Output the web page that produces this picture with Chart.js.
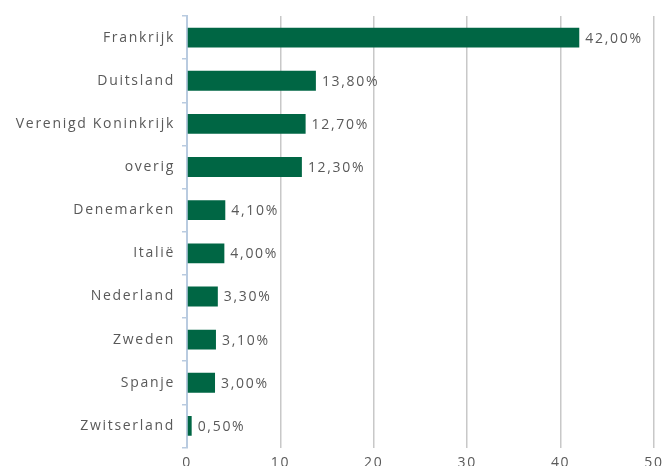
<!DOCTYPE html>
<html>
<head>
<meta charset="utf-8">
<script src="https://cdn.jsdelivr.net/npm/chart.js@4.4.1/dist/chart.umd.min.js"></script>
<style>
  html, body { margin: 0; padding: 0; background: #fff; overflow: hidden; }
  #wrap { position: relative; width: 669px; height: 480px; }
</style>
</head>
<body>
<div id="wrap"><canvas id="landenChart"></canvas></div>
<script>
(function () {
  'use strict';

  var LANDEN = ['Frankrijk', 'Duitsland', 'Verenigd Koninkrijk', 'overig', 'Denemarken',
                'Italië', 'Nederland', 'Zweden', 'Spanje', 'Zwitserland'];
  var AANDEEL = [42.0, 13.8, 12.7, 12.3, 4.1, 4.0, 3.3, 3.1, 3.0, 0.5];
  var X_TICKS = [0, 10, 20, 30, 40, 50];

  var TEXT = '#595959';
  var FONT = { family: "'Open Sans', sans-serif", size: 14 };
  var SPACING = '1.7px';

  function pct(v) { return v.toFixed(2).replace('.', ',') + '%'; }

  /* value labels right of each bar */
  var valueLabels = {
    id: 'valueLabels',
    afterDatasetsDraw: function (chart) {
      var ctx = chart.ctx;
      var meta = chart.getDatasetMeta(0);
      ctx.save();
      ctx.letterSpacing = SPACING;
      ctx.font = FONT.size + 'px ' + FONT.family;
      ctx.fillStyle = TEXT;
      ctx.textAlign = 'left';
      ctx.textBaseline = 'middle';
      meta.data.forEach(function (bar, i) {
        ctx.fillText(pct(AANDEEL[i]), bar.x + 6, bar.y + 1);
      });
      ctx.restore();
    }
  };

  // wider letter spacing for the axis texts too
  var spacing = {
    id: 'spacing',
    beforeDraw: function (chart) { chart.ctx.letterSpacing = SPACING; }
  };

  new Chart(document.getElementById('landenChart').getContext('2d'), {
    type: 'bar',
    data: {
      labels: LANDEN,
      datasets: [{
        data: AANDEEL,
        backgroundColor: '#006644',
        borderWidth: 0,
        categoryPercentage: 1,
        barPercentage: 0.46
      }]
    },
    plugins: [spacing, valueLabels],
    options: {
      indexAxis: 'y',
      responsive: true,
      maintainAspectRatio: false,
      animation: false,
      layout: { padding: { top: 16, right: 11, bottom: 0, left: 0 } },
      plugins: { legend: { display: false }, tooltip: { enabled: false } },
      scales: {
        x: {
          min: 0,
          max: 50,
          afterBuildTicks: function (s) { s.ticks = X_TICKS.map(function (v) { return { value: v }; }); },
          afterFit: function (s) { s.height = 32.5; },
          border: { display: false },
          grid: {
            color: function (c) { return c.index === 0 ? 'rgba(0,0,0,0)' : '#c8c8c8'; },
            lineWidth: 1.5,
            drawTicks: false
          },
          ticks: { color: TEXT, font: FONT, padding: 7 }
        },
        y: {
          afterFit: function (s) { s.width = 187; },
          border: { color: '#b9cbe0', width: 2 },
          grid: {
            drawOnChartArea: false,
            drawTicks: true,
            tickLength: 5,
            color: '#b9cbe0',
            lineWidth: 1.5
          },
          ticks: { color: TEXT, font: FONT, padding: 7 }
        }
      }
    }
  });
})();
</script>
</body>
</html>
